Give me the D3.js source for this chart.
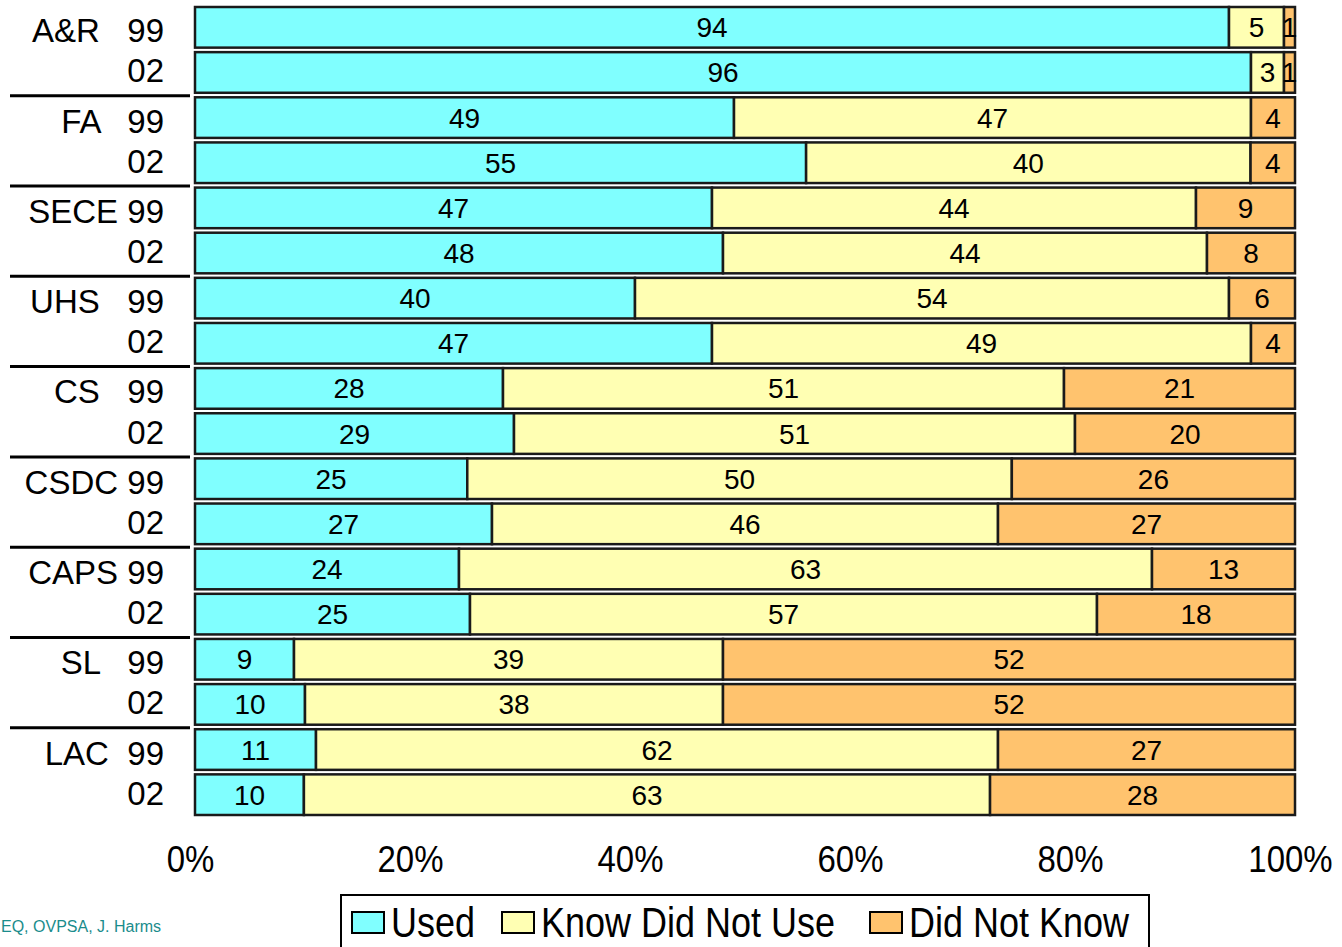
<!DOCTYPE html>
<html lang="en">
<head>
<meta charset="utf-8">
<script src="https://d3js.org/d3.v7.min.js"></script>
<style>
  body { margin: 0; background: #fff; }
  svg { display: block; font-family: "Liberation Sans", Arial, sans-serif; }
</style>
</head>
<body>
<script>
// groups, with the spacing of the original row labels
const groups = ["A&R", "FA", "SECE", "UHS", "CS", "CSDC", "CAPS", "SL", "LAC"];
const groupLabels = ["A&R   99", "FA   99", "SECE 99", "UHS   99", "CS   99", "CSDC 99", "CAPS 99", "SL   99", "LAC  99"];
const years = ["99", "02"];
const seriesNames = ["Used", "Know Did Not Use", "Did Not Know"];

// 1999 survey
const used99  = [94, 49, 47, 40, 28, 25, 24,  9, 11];
const know99  = [ 5, 47, 44, 54, 51, 50, 63, 39, 62];
const didnt99 = [ 1,  4,  9,  6, 21, 26, 13, 52, 27];
// 2002 survey
const used02  = [96, 55, 48, 47, 29, 27, 25, 10, 10];
const know02  = [ 3, 40, 44, 49, 51, 46, 57, 38, 63];
const didnt02 = [ 1,  4,  8,  4, 20, 27, 18, 52, 28];

const xTicks = [0, 0.2, 0.4, 0.6, 0.8, 1];
const colors = ["#80ffff", "#ffffb3", "#ffc36e"];

// rows: one per group/year
const rows = [];
groups.forEach(function(g, i) {
  rows.push({id: g + "-99", group: g, year: "99", label: groupLabels[i], gi: i,
             "Used": used99[i], "Know Did Not Use": know99[i], "Did Not Know": didnt99[i]});
  rows.push({id: g + "-02", group: g, year: "02", label: "02", gi: i,
             "Used": used02[i], "Know Did Not Use": know02[i], "Did Not Know": didnt02[i]});
});

const W = 1342, H = 947;
const svg = d3.select("body").append("svg").attr("width", W).attr("height", H);

const x = d3.scaleLinear().domain([0, 1]).range([195, 1295]);
const y = d3.scaleBand()
  .domain(rows.map(function(d) { return d.id; }))
  .range([4.75, 817.25])
  .paddingInner(0.1)
  .paddingOuter(0.05);

const stack = d3.stack().keys(seriesNames).offset(d3.stackOffsetExpand);
const layers = stack(rows);

// bars
const layer = svg.append("g").selectAll("g")
  .data(layers).enter().append("g")
  .attr("fill", function(d, i) { return colors[i]; });

layer.selectAll("rect")
  .data(function(d) { return d; })
  .enter().append("rect")
  .attr("x", function(d) { return x(d[0]); })
  .attr("y", function(d) { return y(d.data.id); })
  .attr("width", function(d) { return x(d[1]) - x(d[0]); })
  .attr("height", y.bandwidth())
  .attr("stroke", "#1a1a1a")
  .attr("stroke-width", 2.5);

// value labels
layers.forEach(function(l) {
  svg.append("g").selectAll("text")
    .data(l).enter().append("text")
    .attr("x", function(d) { return (x(d[0]) + x(d[1])) / 2; })
    .attr("y", function(d) { return y(d.data.id) + y.bandwidth() / 2 + 10; })
    .attr("text-anchor", "middle")
    .attr("font-size", 28)
    .attr("fill", "#000")
    .text(function(d) { return d.data[l.key]; });
});

// row labels (group + year)
svg.append("g").selectAll("text")
  .data(rows).enter().append("text")
  .attr("x", 164)
  .attr("y", function(d) { return y(d.id) + y.bandwidth() / 2 + (d.year === "99" ? 15 : 10); })
  .attr("text-anchor", "end")
  .attr("font-size", 33)
  .style("white-space", "pre")
  .text(function(d) { return d.label; });

// separators between groups
svg.append("g").selectAll("line")
  .data(groups.slice(1)).enter().append("line")
  .attr("x1", 10).attr("x2", 190)
  .attr("y1", function(g) { return y(g + "-99") - 1.5; })
  .attr("y2", function(g) { return y(g + "-99") - 1.5; })
  .attr("stroke", "#000")
  .attr("stroke-width", 3);

// x axis (labels only)
const xAxis = svg.append("g")
  .attr("transform", "translate(-5,840)")
  .call(d3.axisBottom(x).tickValues(xTicks).tickFormat(d3.format(".0%")).tickSize(0));
xAxis.select(".domain").remove();
xAxis.selectAll("text")
  .attr("font-family", "Liberation Sans, Arial, sans-serif")
  .attr("font-size", 33)
  .attr("fill", "#000")
  .attr("y", 0)
  .attr("dy", 0)
  .attr("transform", "translate(0,32) scale(1,1.12)");

// legend
const legend = svg.append("g");
legend.append("rect")
  .attr("x", 341).attr("y", 895).attr("width", 808).attr("height", 70)
  .attr("fill", "#fff").attr("stroke", "#000").attr("stroke-width", 2);
const legendX = [352, 502, 870];
const legItem = legend.selectAll("g.item")
  .data(seriesNames).enter().append("g")
  .attr("class", "item")
  .attr("transform", function(d, i) { return "translate(" + legendX[i] + ",912)"; });
legItem.append("rect")
  .attr("width", 32).attr("height", 21)
  .attr("fill", function(d, i) { return colors[i]; })
  .attr("stroke", "#000").attr("stroke-width", 2);
legItem.append("text")
  .attr("transform", "translate(39,25) scale(1,1.2)")
  .attr("font-size", 36)
  .text(function(d) { return d; });

// source note (only the visible part of it)
svg.append("text")
  .attr("x", 1).attr("y", 932)
  .attr("text-anchor", "start")
  .attr("font-size", 16)
  .attr("fill", "#1a8c8c")
  .text("EQ, OVPSA, J. Harms");
</script>
</body>
</html>
